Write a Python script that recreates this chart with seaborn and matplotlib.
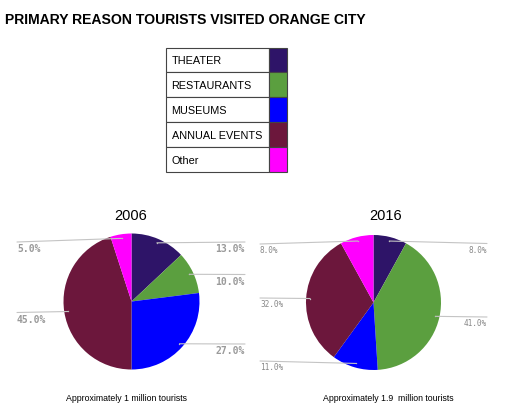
import matplotlib
matplotlib.use("Agg")
import matplotlib.pyplot as plt
import seaborn as sns
import numpy as np

sns.set_theme(style="white")
plt.rcParams['font.family'] = ['Liberation Sans', 'DejaVu Sans']

title = "PRIMARY REASON TOURISTS VISITED ORANGE CITY"
categories = ["THEATER", "RESTAURANTS", "MUSEUMS", "ANNUAL EVENTS", "Other"]
colors = ["#2e1468", "#5b9f3f", "#0000ff", "#6c173c", "#ff00ff"]
years = ["2006", "2016"]
values_2006 = [13.0, 10.0, 27.0, 45.0, 5.0]
values_2016 = [8.0, 41.0, 11.0, 32.0, 8.0]
subtitles = ["Approximately 1 million tourists", "Approximately 1.9  million tourists"]

W, H = 512, 406
fig = plt.figure(figsize=(W / 100, H / 100), dpi=100)


def fx(x):
    return x / W


def fy(y):
    return 1 - y / H


fig.text(fx(5), fy(20), title, fontsize=10.1, fontweight="bold", color="black",
         ha="left", va="center")

# legend table
lx0, lx1, lx2 = 165.5, 269, 287
ly0, row_h = 48.5, 24.8
lax = fig.add_axes([0, 0, 1, 1], zorder=0)
lax.set_xlim(0, W)
lax.set_ylim(H, 0)
lax.axis("off")
for i, (cat, col) in enumerate(zip(categories, colors)):
    y = ly0 + i * row_h
    lax.add_patch(plt.Rectangle((lx0, y), lx1 - lx0, row_h, facecolor="white",
                                edgecolor="#444444", lw=0.8))
    lax.add_patch(plt.Rectangle((lx1, y), lx2 - lx1, row_h, facecolor=col,
                                edgecolor="#444444", lw=0.8))
    lax.text(lx0 + 6, y + row_h / 2 + 0.5, cat, fontsize=7.8, ha="left", va="center",
             color="black")

# pie layouts
pies = [
    dict(vals=values_2006, cx=131.5, cy=302.5, r=68, title_x=131, sub_x=126,
         font=dict(family="DejaVu Sans Mono", fontweight="bold", fontsize=7, color="#9a9a9a"),
         labels=[(245, 243, "right"), (245, 275.5, "right"), (245, 345, "right"),
                 (17, 313.5, "left"), (17, 243, "left")]),
    dict(vals=values_2016, cx=373.5, cy=303.5, r=67.5, title_x=386, sub_x=388,
         font=dict(family="DejaVu Sans Mono", fontsize=5.6, color="#888888"),
         labels=[(487, 244.5, "right"), (487, 318, "right"), (260, 362, "left"),
                 (260, 299, "left"), (260, 245, "left")]),
]

for p, yr, sub in zip(pies, years, subtitles):
    r = p["r"]
    ax = fig.add_axes([fx(p["cx"] - r), fy(p["cy"] + r), 2 * r / W, 2 * r / H], zorder=1)
    ax.pie(p["vals"], colors=colors, startangle=90, counterclock=False, radius=1,
           wedgeprops=dict(linewidth=0))
    ax.set_xlim(-1, 1)
    ax.set_ylim(-1, 1)
    ax.set_aspect("auto")
    ax.axis("off")

    # leader lines & labels
    start = 90.0
    for v, (tx, ty, ha) in zip(p["vals"], p["labels"]):
        mid = np.deg2rad(start - v * 3.6 / 2)
        start -= v * 3.6
        dx = p["cx"] + 0.94 * r * np.cos(mid)
        dy = p["cy"] - 0.94 * r * np.sin(mid)
        lax.plot([dx, tx], [dy, ty], color="#c4c4c4", lw=0.8, zorder=5)
        lax.plot([dx], [dy], marker="o", ms=1.0, mew=0, color="#bbbbbb", zorder=6)
        lax.text(tx, ty + 1.2, f"{v:.1f}%", ha=ha, va="top", zorder=6, **p["font"])
    fig.text(fx(p["title_x"]), fy(216.5), yr, fontsize=10.5, ha="center", va="center",
             color="black")
    fig.text(fx(p["sub_x"]), fy(399), sub, fontsize=6.3, ha="center", va="center",
             color="black")

lax.set_zorder(2)
lax.patch.set_alpha(0)

fig.savefig("out.png", dpi=100)
